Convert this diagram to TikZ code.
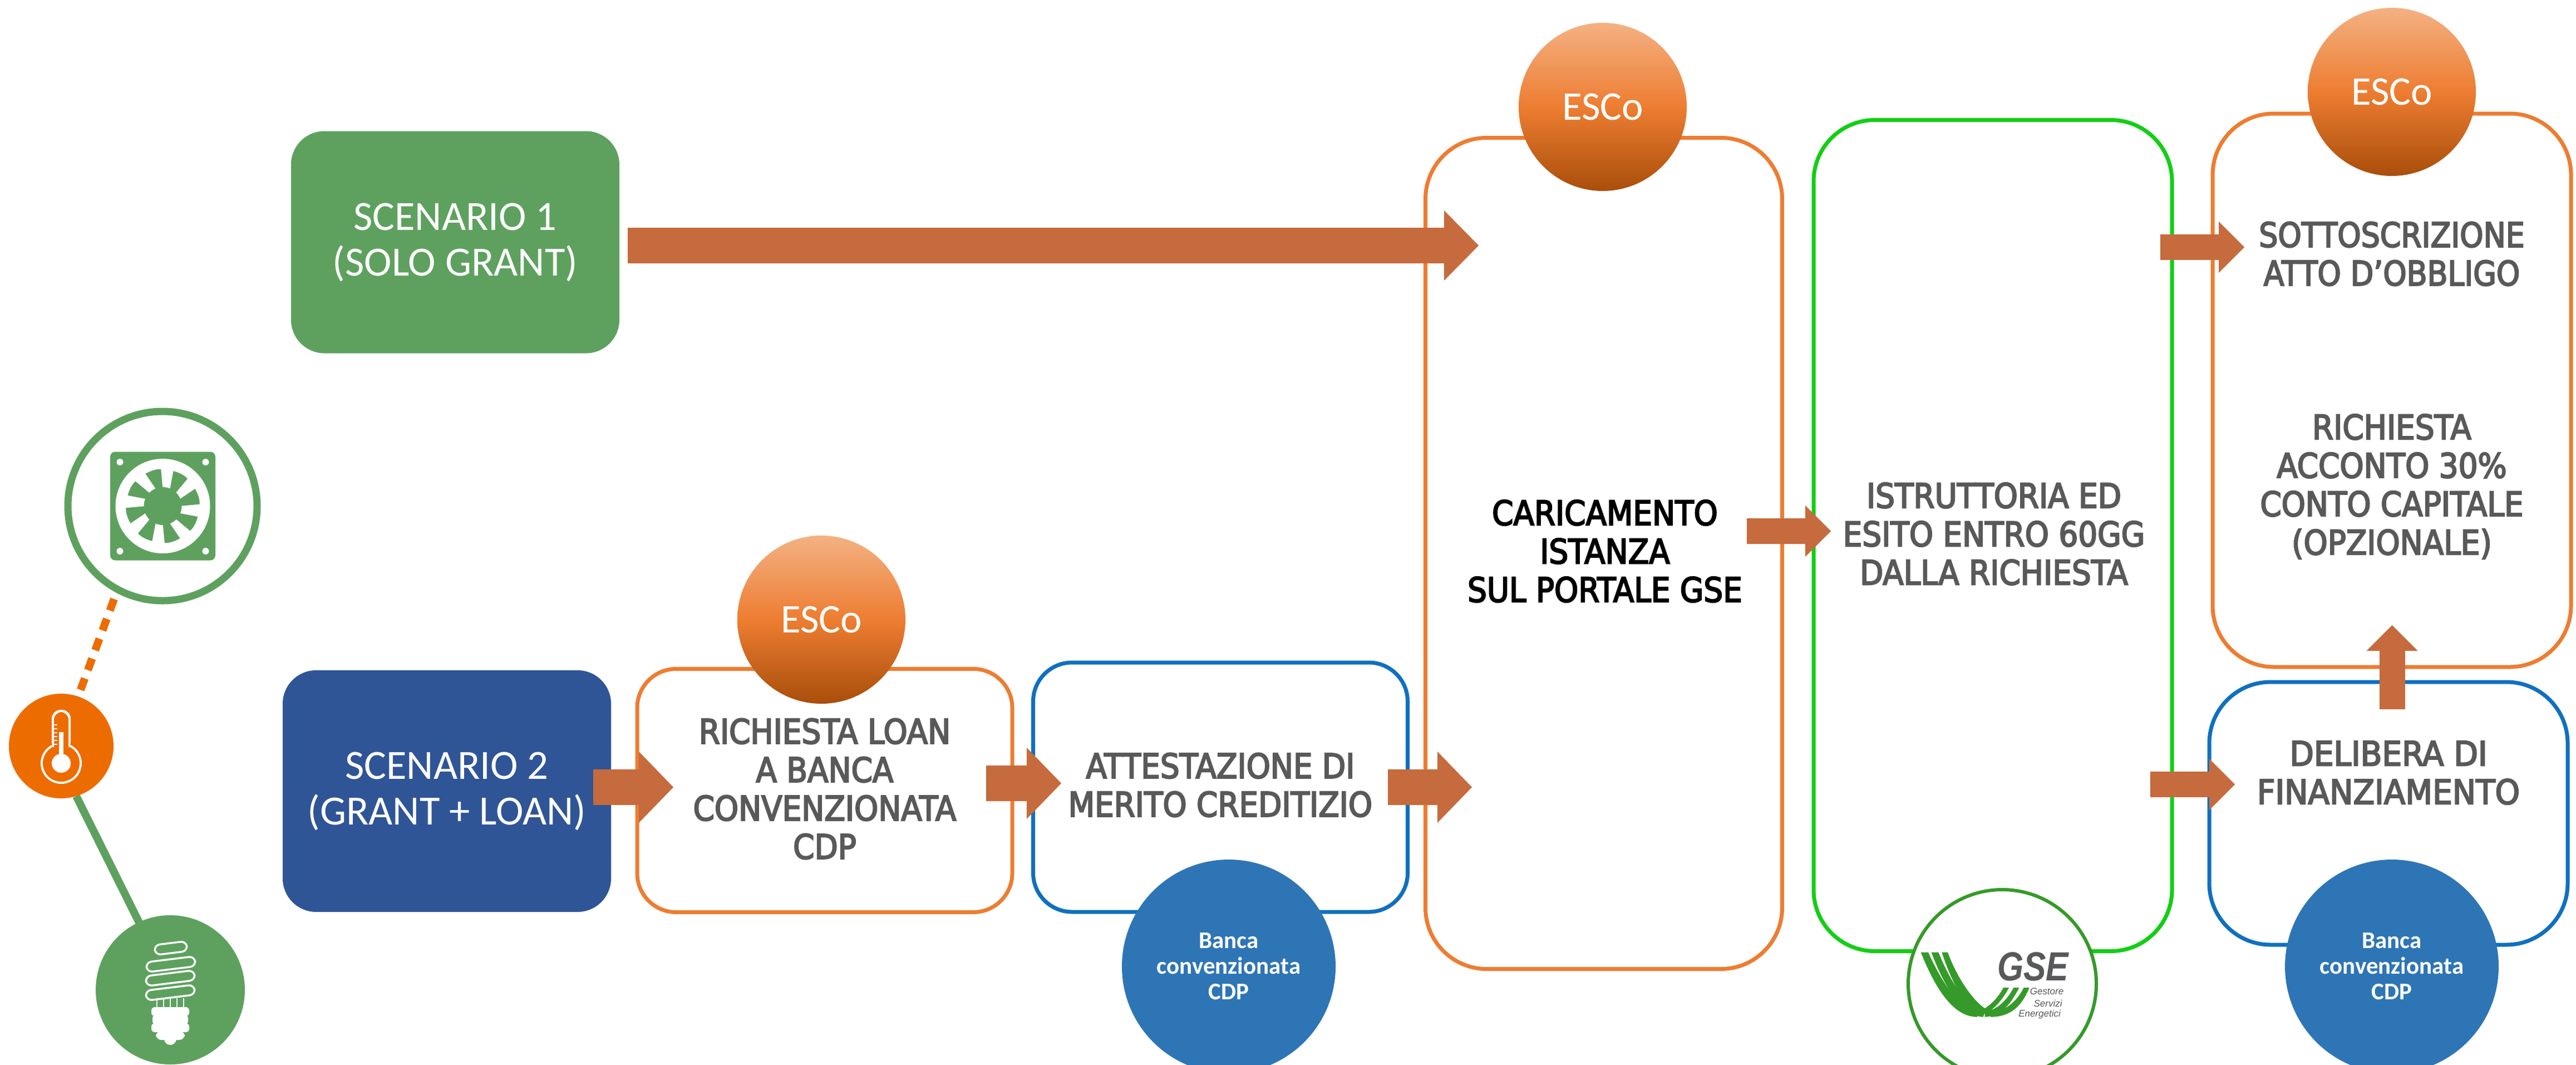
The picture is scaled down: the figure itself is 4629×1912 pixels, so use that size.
\documentclass[tikz,border=0pt]{standalone}
\usepackage{fontspec}
\setmainfont{Carlito}
\newfontfamily\logofont{Liberation Sans}
\newfontfamily\stepfamily[FakeBold=3.5]{DejaVu Sans Condensed}
\usetikzlibrary{arrows.meta}
\definecolor{greenfill}{HTML}{5EA15F}
\definecolor{bluefill}{HTML}{2F5597}
\definecolor{orangeline}{HTML}{ED7D31}
\definecolor{blueline}{HTML}{0F70C0}
\definecolor{greenline}{HTML}{12CF14}
\definecolor{arrowfill}{HTML}{C66B3D}
\definecolor{txtgrey}{HTML}{595959}
\definecolor{bankfill}{HTML}{2E75B6}
\definecolor{gsegreen}{HTML}{359A29}
\definecolor{gsegrey}{HTML}{58595B}
\definecolor{thermo}{HTML}{ED6C00}
\definecolor{esctop}{HTML}{F4B183}
\definecolor{escbot}{HTML}{A94E0B}
\tikzset{
  x=0.5pt,y=-0.5pt,
  every node/.style={inner sep=0pt,outer sep=0pt,align=center},
  bigtext/.style={font=\fontsize{37.3}{41}\selectfont},
  stepfont/.style={font=\stepfamily\fontsize{30.5}{34.5}\selectfont,text=txtgrey},
  scenariobox/.style={rounded corners=30pt,text=white,bigtext},
  framebox/.style={draw,line width=3.5pt,rounded corners=35pt,fill=none},
  tallbox/.style={draw,line width=3.5pt,rounded corners=55pt,fill=none},
  escocircle/.style={circle,minimum size=151pt,top color=esctop,bottom color=escbot,middle color=orangeline,text=white,font=\fontsize{36.5}{40}\selectfont},
  bankcircle/.style={circle,minimum size=192pt,fill=bankfill,text=white,font=\fontsize{21.5}{23}\selectfont\bfseries},
  blockh/.style={color=arrowfill,line width=32pt,-{Triangle[length=31pt,width=63pt,line width=0pt]}},
  blockm/.style={color=arrowfill,line width=32pt,-{Triangle[length=31pt,width=64pt,line width=0pt]}},
  blocks/.style={color=arrowfill,line width=23pt,-{Triangle[length=23pt,width=46pt,line width=0pt]}},
  gsesmall/.style={font=\logofont\fontsize{8.5}{10}\selectfont\itshape,text=gsegrey},
}
\begin{document}
\begin{tikzpicture}
\path[use as bounding box,fill=white] (0,0) rectangle (4629,1912);
\clip (0,0) rectangle (4629,1912);

% left icon chain
\coordinate (chainA) at (205,1076);
\coordinate (chainB) at (140,1252);
\coordinate (chainC) at (137,1430);
\coordinate (chainD) at (250,1657);
\draw[thermo,line width=7pt,dash pattern=on 11pt off 8pt] (chainA) -- (chainB);
\draw[greenfill,line width=7pt] (chainC) -- (chainD);

\node[circle,draw=greenfill,fill=white,line width=6.5pt,minimum size=170pt] (fancircle) at (292,909) {};
\node[circle,fill=thermo,minimum size=94pt] (thermocircle) at (110,1340) {};
\node[circle,fill=greenfill,minimum size=134pt] (bulbcircle) at (306,1778) {};

% fan icon
\begin{scope}[shift={(292.5,909)}]
  \fill[greenfill,rounded corners=4.5pt] (-94.5,-97.5) rectangle (94.5,97.5);
  \fill[white] (0,0) circle [radius=42.5pt];
  \fill[greenfill] (0,0) circle [radius=17pt];
  \foreach \a in {0,45,...,315}{
    \fill[greenfill,rotate=\a] (0,-30) -- (-3.3,-66) .. controls (-12,-67) and (-22,-63) .. (-31,-58) -- (-12,-30) -- cycle;
  }
  \foreach \p/\q in {-77/-79,77/-79,-77/81,77/81}{
    \fill[white] (\p,\q) circle [radius=3pt];
  }
\end{scope}

% thermometer icon
\begin{scope}[shift={(110,1340)}]
  \fill[white] (0,31) circle [radius=18.5pt];
  \fill[thermo] (0,31) circle [radius=16.5pt];
  \fill[white,rounded corners=8pt] (-17,-65) rectangle (17,8);
  \fill[thermo,rounded corners=7pt] (-13,-61) rectangle (13,14);
  \fill[white] (0,31) circle [radius=8.5pt];
  \fill[white] (-4,-25) rectangle (4,25);
  \foreach \t in {-39,-32,-25,-18,-11,-4}{
    \fill[white] (-15,\t) rectangle (-7,\t+2);
  }
\end{scope}

% bulb icon
\begin{scope}[shift={(306,1778)}]
  \foreach \cx/\cy/\w in {1/-75/29,1/-46/44,0/-21/44,0/5/44}{
    \begin{scope}[shift={(\cx,\cy)},rotate=7]
      \draw[white,line width=1.7pt,rounded corners=5pt] (-\w,-9) rectangle (\w,9);
    \end{scope}
  }
  \foreach \lx in {-24,-12,0,12,24}{
    \draw[white,line width=1.3pt] (\lx,15) -- (\lx,33);
  }
  \fill[white,rounded corners=3pt] (-34,31) rectangle (34,47);
  \fill[white,rounded corners=3pt] (-32,45) rectangle (32,62);
  \fill[white,rounded corners=3pt] (-34,60) rectangle (34,76);
  \fill[white,rounded corners=5pt] (-26,74) rectangle (26,90);
  \fill[white] (0,88) circle [radius=5.5pt];
\end{scope}

% scenario boxes
\node[scenariobox,fill=greenfill,minimum width=295pt,minimum height=199.5pt] (s1) at (818,435) {SCENARIO 1\\(SOLO GRANT)};
\node[scenariobox,fill=bluefill,minimum width=295pt,minimum height=217pt] (s2) at (803,1421) {SCENARIO 2\\(GRANT + LOAN)};

% process boxes
\node[framebox,draw=orangeline,minimum width=337pt,minimum height=218.5pt] (rich) at (1482,1420) {};
\node[framebox,draw=blueline,minimum width=336.5pt,minimum height=224pt] (att) at (2193,1414) {};
\node[tallbox,draw=orangeline,minimum width=320.5pt,minimum height=746.5pt] (car) at (2882,994) {};
\node[tallbox,draw=greenline,minimum width=322pt,minimum height=746.5pt] (ist) at (3581,962) {};
\node[tallbox,draw=orangeline,minimum width=322pt,minimum height=497pt] (acc) at (4298,701) {};
\node[tallbox,draw=blueline,minimum width=322pt,minimum height=236pt] (del) at (4292,1461) {};

% labels
\node[stepfont] (richtext) at (1482,1417) {RICHIESTA LOAN\\A BANCA\\CONVENZIONATA\\CDP};
\node[stepfont] (atttext) at (2193,1410) {ATTESTAZIONE DI\\MERITO CREDITIZIO};
\node[stepfont,text=black] (cartext) at (2884,990) {CARICAMENTO\\ISTANZA\\SUL PORTALE GSE};
\node[stepfont] (isttext) at (3583,959) {ISTRUTTORIA ED\\ESITO ENTRO 60GG\\DALLA RICHIESTA};
\node[stepfont,xscale=0.98] (subtext) at (4298,456) {SOTTOSCRIZIONE\\ATTO D’OBBLIGO};
\node[stepfont] (antext) at (4298,874) {RICHIESTA\\ACCONTO 30\%\\CONTO CAPITALE\\(OPZIONALE)};
\node[stepfont,xscale=1.03] (deltext) at (4292,1388) {DELIBERA DI\\FINANZIAMENTO};

% block arrows
\coordinate (a1s) at (1128,441); \coordinate (a1e) at (2657,441);
\coordinate (a2s) at (1066,1414); \coordinate (a2e) at (1210,1414);
\coordinate (a3s) at (1772,1407); \coordinate (a3e) at (1907,1407);
\coordinate (a4s) at (2494,1414); \coordinate (a4e) at (2645,1414);
\coordinate (a5s) at (3139,954); \coordinate (a5e) at (3290,954);
\coordinate (a6s) at (3882,444); \coordinate (a6e) at (4033,444);
\coordinate (a7s) at (3864,1409); \coordinate (a7e) at (4016,1409);
\coordinate (a8s) at (4298.5,1274); \coordinate (a8e) at (4298.5,1123);
\draw[blockh] (a1s) -- (a1e);
\draw[blockm] (a2s) -- (a2e);
\draw[blockm] (a3s) -- (a3e);
\draw[blockm] (a4s) -- (a4e);
\draw[blocks] (a5s) -- (a5e);
\draw[blocks] (a6s) -- (a6e);
\draw[blocks] (a7s) -- (a7e);
\draw[blocks] (a8s) -- (a8e);

% circles
\node[escocircle] (esco1) at (1476,1113) {ESCo};
\node[escocircle] (esco2) at (2880,192) {ESCo};
\node[escocircle] (esco3) at (4298,165) {ESCo};
\node[bankcircle] (bank1) at (2208,1736) {Banca\\convenzionata\\CDP};
\node[bankcircle] (bank2) at (4298,1736) {Banca\\convenzionata\\CDP};
\node[circle,draw=gsegreen,fill=white,line width=3pt,minimum size=169pt] (gse) at (3598,1767) {};

% GSE logo
\begin{scope}[shift={(3350,1500)},scale=1/3]
  \fill[gsegreen] (305,632) -- (345,632) .. controls (420,800) and (520,945) .. (610,950) -- (610,980) .. controls (480,980) and (385,830) .. cycle;
  \fill[gsegreen] (362,632) -- (400,632) .. controls (460,780) and (550,930) .. (640,950) -- (640,980) .. controls (520,975) and (425,800) .. cycle;
  \fill[gsegreen] (418,632) -- (450,632) .. controls (500,770) and (590,900) .. (660,940) -- (640,980) .. controls (550,950) and (470,790) .. cycle;
  \fill[gsegreen] (750,822) -- (780,822) .. controls (745,890) and (700,935) .. (660,960) -- (640,940) .. controls (690,910) and (725,870) .. cycle;
  \fill[gsegreen] (805,822) -- (835,822) .. controls (790,910) and (740,975) .. (650,980) -- (650,950) .. controls (720,945) and (775,880) .. cycle;
  \fill[gsegreen] (860,822) -- (890,822) .. controls (850,920) and (790,980) .. (680,980) -- (680,950) .. controls (770,950) and (825,890) .. cycle;
\end{scope}
\node[font=\logofont\fontsize{36.5}{40}\selectfont\bfseries\itshape,text=gsegrey,xscale=0.83] (gsetext) at (3653,1736) {GSE};
\node[gsesmall] (gse1) at (3678,1781) {Gestore};
\node[gsesmall] (gse2) at (3680,1802) {Servizi};
\node[gsesmall] (gse3) at (3665,1822) {Energetici};
\end{tikzpicture}
\end{document}
